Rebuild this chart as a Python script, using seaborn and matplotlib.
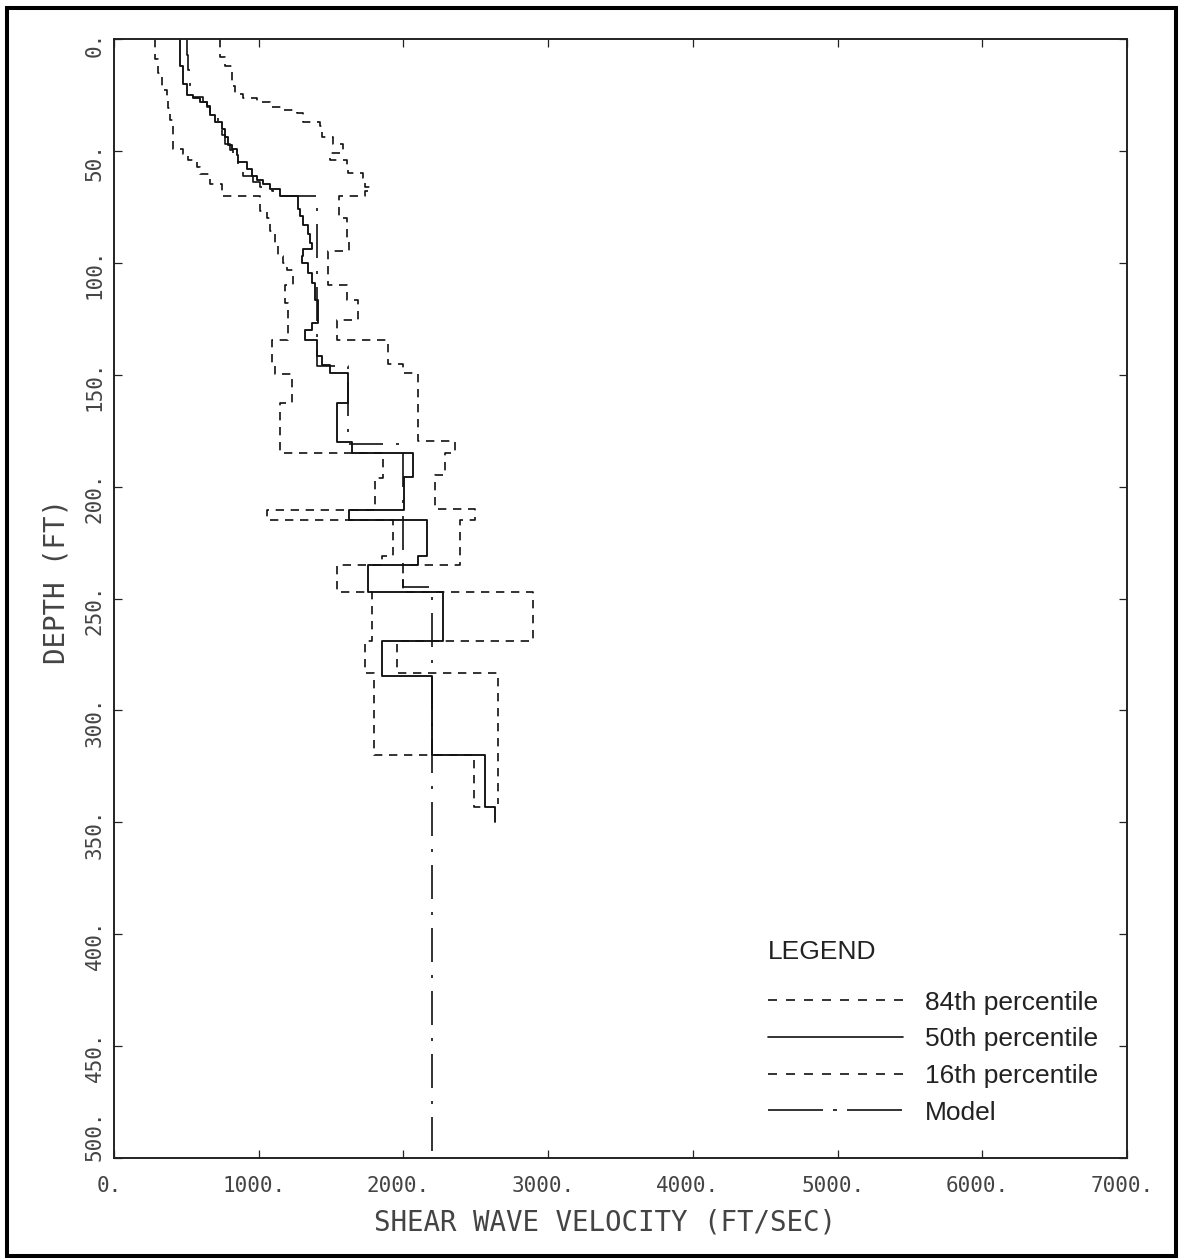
import numpy as np
import pandas as pd
import matplotlib
matplotlib.use("Agg")
import matplotlib.pyplot as plt
from matplotlib.lines import Line2D
from matplotlib.patches import Rectangle
from matplotlib.transforms import ScaledTranslation
import seaborn as sns

# ---- layer profiles: layer boundaries (ft) and shear wave velocity per layer (ft/sec) ----
p50_bounds = [0, 12, 20, 25, 26.5, 28, 30, 34, 37, 40, 44, 47.3, 49, 52, 55, 58, 61, 63, 65, 67, 70,
              76, 79, 83, 87, 91, 94, 97, 100, 104.7, 109, 116.6, 127, 130, 134.5, 141.8, 145.6, 149.4,
              162.8, 179.9, 185.1, 195.5, 210.4, 214.9, 231, 235, 246.9, 268.8, 284.6, 320, 343, 350]
p50_vel = [456, 476, 507, 548, 595, 640, 664, 698, 744, 767, 790, 812, 848, 859, 917, 951, 986, 1032,
           1078, 1147, 1273, 1287, 1308, 1342, 1354, 1366, 1308, 1297, 1343, 1366, 1389, 1412, 1366,
           1320, 1401, 1439, 1492, 1619, 1543, 1642, 2069, 2004, 1626, 2161, 2103, 1758, 2271, 1850,
           2200, 2564, 2634]

p16_bounds = [0, 9, 15, 23, 27, 31, 36, 49, 51.5, 54, 57, 60.5, 65, 70, 77, 80, 86, 92, 97, 100, 103,
              110, 118, 134.5, 145, 149.6, 162.8, 185.1, 196, 210.3, 215, 231, 235, 247, 269, 283.4,
              320, 343, 344]
p16_vel = [284, 307, 329, 364, 376, 387, 410, 479, 514, 571, 595, 664, 744, 1009, 1055, 1078, 1112,
           1136, 1170, 1193, 1239, 1181, 1205, 1089, 1112, 1228, 1147, 1861, 1803, 1055, 1931, 1854,
           1539, 1781, 1734, 1796, 2489, 2564]

p84_bounds = [0, 8, 12, 21, 24.5, 26.5, 28, 30.2, 31.7, 33, 37, 39, 44, 47, 51, 54, 56.5, 60, 62, 66,
              68, 70, 80, 90, 94.8, 110, 116.6, 125.5, 134.5, 145, 149.4, 179.5, 185.1, 195, 210.2,
              215, 235, 247, 268.8, 283.4, 342]
p84_vel = [732, 767, 813, 836, 894, 986, 1078, 1159, 1262, 1309, 1423, 1436, 1516, 1584, 1493, 1608,
           1619, 1723, 1734, 1769, 1734, 1557, 1613, 1624, 1480, 1608, 1688, 1539, 1896, 1999, 2103,
           2357, 2288, 2218, 2495, 2391, 2000, 2898, 1954, 2656]

model_bounds = [0, 7, 14, 22, 26, 28, 30.5, 35, 39, 43, 47, 49.5, 53, 58, 61, 64, 66, 68, 70, 146,
                181, 245, 500]
model_vel = [502, 514, 525, 548, 617, 640, 664, 721, 744, 767, 801, 825, 859, 894, 962, 1009, 1089,
             1136, 1401, 1619, 2000, 2200]

x_ticks = [0, 1000, 2000, 3000, 4000, 5000, 6000, 7000]
y_ticks = [0, 50, 100, 150, 200, 250, 300, 350, 400, 450, 500]
legend_labels = ["84th percentile", "50th percentile", "16th percentile", "Model"]


def staircase(bounds, vels):
    """Turn layer boundaries and layer velocities into a step-profile path."""
    b = np.asarray(bounds, dtype=float)
    v = np.asarray(vels, dtype=float)
    return pd.DataFrame({"vel": np.repeat(v, 2),
                         "depth": np.column_stack([b[:-1], b[1:]]).ravel()})


sns.set_style("ticks")
plt.rcParams["font.family"] = ["DejaVu Sans Mono", "DejaVu Sans"]

fig = plt.figure(figsize=(11.82, 12.6), dpi=100)
W, H = 1182, 1260
ax = fig.add_axes([114 / W, 1 - 1158 / H, (1127 - 114) / W, (1158 - 39) / H])

LW = 1.2
dash_pct = (0, (5.0, 4.0))
dash_model = (0, (20.4, 7.8, 1.8, 7.8))
ink = "#111111"

for bounds, vels, ls, lw in [
    (p84_bounds, p84_vel, dash_pct, LW),
    (p16_bounds, p16_vel, dash_pct, LW),
    (model_bounds, model_vel, dash_model, LW),
    (p50_bounds, p50_vel, "-", 1.35),
]:
    df = staircase(bounds, vels)
    sns.lineplot(data=df, x="vel", y="depth", sort=False, estimator=None,
                 color=ink, lw=lw, linestyle=ls, ax=ax)

ax.set_xlim(0, 7000)
ax.set_ylim(500, 0)
ax.set_xticks(x_ticks)
ax.set_xticklabels([f"{t}." for t in x_ticks])
ax.set_yticks(y_ticks)
ax.set_yticklabels([f"{t}." for t in y_ticks])

txt_col = "#444444"
ax.tick_params(direction="in", top=True, right=True, length=6, width=0.9,
               colors="#222222", labelcolor=txt_col, labelsize=15)
ax.tick_params(axis="x", pad=13)
ax.tick_params(axis="y", pad=6.5, labelrotation=90)

# depth labels sit a little below their ticks; the last one is kept inside the axis end
y_shift = {0: -5, 500: 22}
for t, lab in zip(y_ticks, ax.get_yticklabels()):
    lab.set_verticalalignment("center")
    dy = y_shift.get(t, -11)
    lab.set_transform(lab.get_transform() + ScaledTranslation(0, dy / 100, fig.dpi_scale_trans))
for lab in ax.get_xticklabels():
    lab.set_transform(lab.get_transform() + ScaledTranslation(-5 / 100, 0, fig.dpi_scale_trans))

for sp in ax.spines.values():
    sp.set_linewidth(1.4)
    sp.set_color("#222222")

ax.set_xlabel("SHEAR WAVE VELOCITY (FT/SEC)", fontsize=19.8, color=txt_col,
              ha="center", va="center")
ax.set_ylabel("DEPTH (FT)", fontsize=19.8, color=txt_col, ha="center", va="center",
              rotation=90, rotation_mode="default")
ax.xaxis.set_label_coords((605 - 114) / 1013, (1158 - 1222) / 1119)
ax.yaxis.set_label_coords((57 - 114) / 1013, 1 - (581 - 39) / 1119)

# legend
leg_font = ["Liberation Sans", "DejaVu Sans"]
handles = [
    Line2D([], [], color=ink, lw=LW, linestyle=(0, (5.4, 5.4))),
    Line2D([], [], color=ink, lw=LW, linestyle="-"),
    Line2D([], [], color=ink, lw=LW, linestyle=(0, (5.4, 5.4))),
    Line2D([], [], color=ink, lw=LW, linestyle=(0, (33, 6, 2.4, 6))),
]
fig.text(768 / W, 1 - 952 / H, "LEGEND", fontsize=19, family=leg_font, color="#222222",
         ha="left", va="center")
leg = fig.legend(handles, legend_labels, loc="upper left",
                 bbox_to_anchor=(768 / W, 1 - 990.6 / H), frameon=False, borderpad=0,
                 borderaxespad=0, handlelength=5.11, handletextpad=0.83, labelspacing=0.48,
                 prop={"family": leg_font, "size": 19})
for t in leg.get_texts():
    t.set_color("#222222")

# outer frame around the whole figure
fig.patches.append(Rectangle((7 / W, 1 - 1256 / H), (1176 - 7) / W, (1256 - 8) / H,
                             transform=fig.transFigure, fill=False, lw=2.9, ec="black"))

fig.savefig("out.png", dpi=100)
